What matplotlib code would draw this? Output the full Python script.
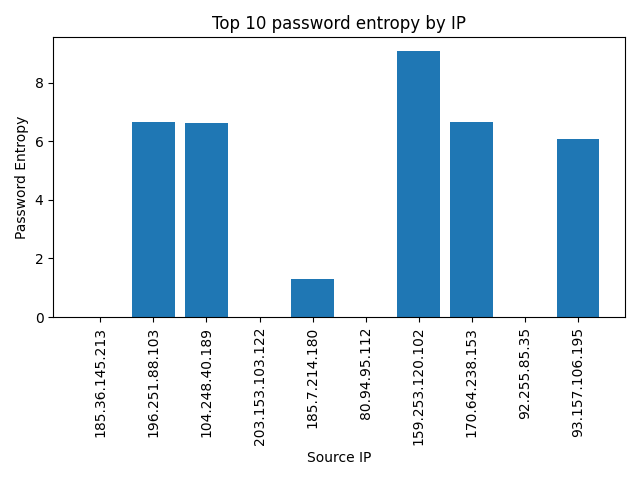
import matplotlib
matplotlib.use('Agg')
import matplotlib.pyplot as plt

ips = ['185.36.145.213', '196.251.88.103', '104.248.40.189', '203.153.103.122',
       '185.7.214.180', '80.94.95.112', '159.253.120.102', '170.64.238.153',
       '92.255.85.35', '93.157.106.195']
entropy = [0.0, 6.67, 6.63, 0.0, 1.30, 0.0, 9.09, 6.67, 0.0, 6.09]

fig, ax = plt.subplots(figsize=(6.4, 4.8), dpi=100)
ax.bar(ips, entropy)
ax.set_title('Top 10 password entropy by IP')
ax.set_xlabel('Source IP')
ax.set_ylabel('Password Entropy')
plt.xticks(rotation=90)
plt.tight_layout()
plt.savefig('out.png')
